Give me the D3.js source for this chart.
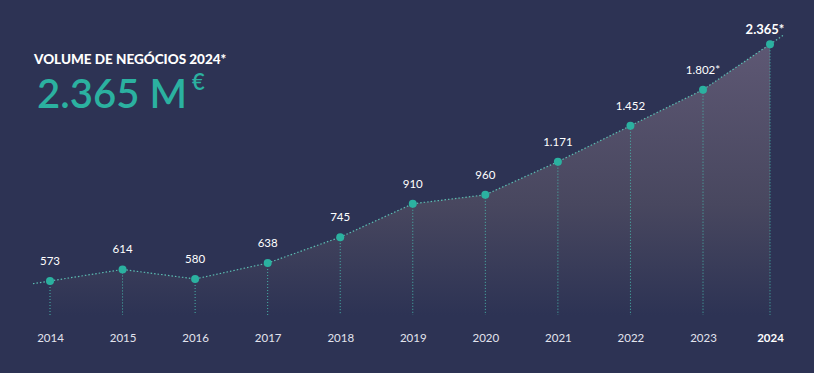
<!DOCTYPE html>
<html><head><meta charset="utf-8">
<script src="https://cdn.jsdelivr.net/npm/d3@7"></script>
<style>
html,body{margin:0;padding:0;background:#2d3354;}
svg{display:block;}
</style></head>
<body>
<svg id="chart" width="814" height="373"></svg>
<script>
const years = [2014, 2015, 2016, 2017, 2018, 2019, 2020, 2021, 2022, 2023, 2024];
const values = [573, 614, 580, 638, 745, 910, 960, 1171, 1452, 1802, 2365];
const estimated = [false, false, false, false, false, false, false, false, false, true, true];
const titleText = "VOLUME DE NEGÓCIOS 2024*";
const headlineValue = "2.365 M";
const headlineUnit = "€";

const W = 814, H = 373;
const bg = "#2d3354", teal = "#2bb1a0";
const svg = d3.select("#chart");
svg.append("rect").attr("width", W).attr("height", H).attr("fill", bg);

const x = d3.scaleLinear().domain([2014, 2023, 2024]).range([50, 703, 770]);
const y = d3.scaleLog().domain([573, 2365]).range([281, 44.3]);
const baseY = 315;
const loc = d3.formatLocale({decimal: ",", thousands: ".", grouping: [3], currency: ["", "€"]});
const fmt = loc.format(",d");

const pts = years.map((yr, i) => [x(yr), y(values[i])]);

const defs = svg.append("defs");
const grad = defs.append("linearGradient").attr("id", "ag")
  .attr("gradientUnits", "userSpaceOnUse").attr("x1", 0).attr("x2", 0).attr("y1", 40).attr("y2", baseY);
grad.append("stop").attr("offset", 0).attr("stop-color", "#5e5874");
grad.append("stop").attr("offset", 0.6).attr("stop-color", "#48475f");
grad.append("stop").attr("offset", 1).attr("stop-color", bg);

// area
const area = d3.area().x(d => d[0]).y0(baseY).y1(d => d[1]);
svg.append("path").datum(pts).attr("d", area).attr("fill", "url(#ag)");

// drop lines
svg.selectAll(".drop").data(pts).join("line")
  .attr("x1", d => d[0]).attr("x2", d => d[0])
  .attr("y1", d => d[1]).attr("y2", baseY)
  .attr("stroke", "#48b7ab").attr("stroke-width", 1).attr("stroke-dasharray", "1,2");

// line with extensions (extrapolate first and last segments)
const f = pts[0], s = pts[1], l = pts[pts.length - 1], p = pts[pts.length - 2];
const extL = 17, extR = 13;
const start = [f[0] - extL, f[1] - (s[1] - f[1]) / (s[0] - f[0]) * extL];
const end = [l[0] + extR, l[1] + (l[1] - p[1]) / (l[0] - p[0]) * extR];
const linePts = [start, ...pts, end];
svg.append("path").datum(linePts).attr("d", d3.line())
  .attr("fill", "none").attr("stroke", "#5bbdb2").attr("stroke-width", 1.2)
  .attr("stroke-dasharray", "1.5,2");

// dots
svg.selectAll(".dot").data(pts).join("circle")
  .attr("cx", d => d[0]).attr("cy", d => d[1]).attr("r", 4).attr("fill", teal);

// value labels
svg.selectAll(".vl").data(years).join("text")
  .attr("x", (d, i) => i === years.length - 1 ? x(d) - 5 : x(d))
  .attr("y", (d, i) => i === years.length - 1 ? y(values[i]) - 10 : y(values[i]) - 16)
  .attr("text-anchor", "middle")
  .attr("font-family", "Lato, 'Open Sans', sans-serif")
  .attr("font-size", (d, i) => i === years.length - 1 ? 13 : 11.5)
  .attr("font-weight", (d, i) => i === years.length - 1 ? 700 : 400)
  .attr("fill", "#ffffff")
  .text((d, i) => fmt(values[i]) + (estimated[i] ? "*" : ""));

// x axis labels
const xAxis = d3.axisBottom(x).tickValues(years).tickFormat(d3.format("d")).tickSize(0).tickPadding(0);
const ax = svg.append("g").attr("transform", "translate(0,334)").call(xAxis);
ax.select(".domain").remove();
ax.selectAll("text")
  .attr("font-family", "Lato, 'Open Sans', sans-serif")
  .attr("font-size", 11.5)
  .attr("font-weight", d => d === 2024 ? 700 : 400)
  .attr("fill", d => d === 2024 ? "#ffffff" : "#e2e4ee");

// headline
svg.append("text").attr("x", 34).attr("y", 64)
  .attr("font-family", "Lato, sans-serif").attr("font-weight", 900).attr("font-size", 13.5)
  .attr("fill", "#ffffff").text(titleText);
svg.append("text").attr("x", 37).attr("y", 108)
  .attr("font-family", "Lato, sans-serif").attr("font-weight", 600).attr("font-size", 41)
  .attr("textLength", 150).attr("lengthAdjust", "spacingAndGlyphs")
  .attr("fill", teal).text(headlineValue);
svg.append("text").attr("x", 192).attr("y", 90)
  .attr("font-family", "Lato, sans-serif").attr("font-weight", 600).attr("font-size", 22)
  .attr("fill", teal).text(headlineUnit);
</script>
</body></html>
